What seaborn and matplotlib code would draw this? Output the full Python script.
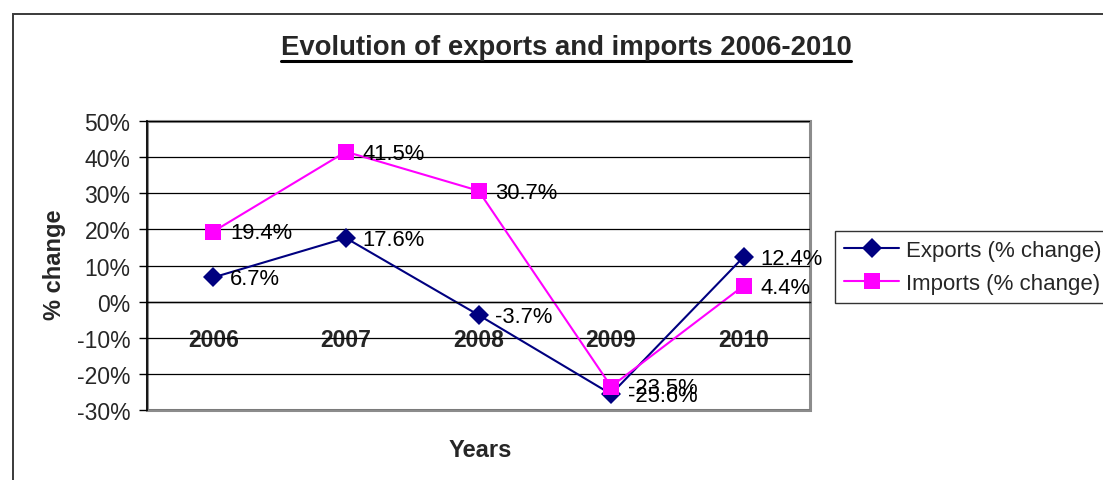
import matplotlib
matplotlib.use("Agg")
import matplotlib.pyplot as plt
from matplotlib.patches import Rectangle
from matplotlib.lines import Line2D
from matplotlib.ticker import FixedLocator, FuncFormatter
import seaborn as sns
import pandas as pd

years = ["2006", "2007", "2008", "2009", "2010"]
exports = [6.7, 17.6, -3.7, -25.6, 12.4]
imports = [19.4, 41.5, 30.7, -23.5, 4.4]
series_names = ["Exports (% change)", "Imports (% change)"]
title_text = "Evolution of exports and imports 2006-2010"

sns.set_theme(style="white")
plt.rcParams["font.family"] = ["Liberation Sans", "DejaVu Sans"]

W, H = 1103, 481
fig = plt.figure(figsize=(W / 100, H / 100), dpi=100)
fig.patch.set_facecolor("white")

# chart frame (left and top edges visible)
fig.patches.append(Rectangle((13 / W, -0.1), 1.2, 1 - 15 / H + 0.1,
                             transform=fig.transFigure, fill=False,
                             edgecolor="#3a3a3a", linewidth=1.4))

ax = fig.add_axes([147 / W, 1 - 411 / H, (810 - 147) / W, (411 - 122) / H])

df = pd.DataFrame({
    "pos": list(range(len(years))) * 2,
    "value": exports + imports,
    "series": [series_names[0]] * len(years) + [series_names[1]] * len(years),
})
palette = {series_names[0]: "#000080", series_names[1]: "#FF00FF"}
markers = {series_names[0]: "D", series_names[1]: "s"}
msize = {series_names[0]: 10.5, series_names[1]: 12}

sns.lineplot(data=df, x="pos", y="value", hue="series", style="series",
             palette=palette, markers=markers, dashes=False, linewidth=1.5,
             markeredgewidth=0, ax=ax, legend=False)
for line, name in zip(ax.lines, series_names):
    line.set_markersize(msize[name])

# value labels
for vals, name in ((exports, series_names[0]), (imports, series_names[1])):
    for i, v in enumerate(vals):
        ax.annotate(f"{v:.1f}%", (i, v), xytext=(12, -1), textcoords="offset points",
                    ha="left", va="center", fontsize=15.8, color="black")

ax.set_xlim(-0.5, len(years) - 0.5)
ax.set_ylim(-30, 50)
ax.yaxis.set_major_locator(FixedLocator(range(-30, 51, 10)))
ax.yaxis.set_major_formatter(FuncFormatter(lambda v, p: f"{int(v)}%"))
ax.grid(axis="y", color="black", linewidth=0.9)
ax.grid(axis="x", visible=False)
ax.set_axisbelow(True)

# category axis crossing at zero
ax.spines["bottom"].set_position(("data", 0))
ax.spines["bottom"].set_color("black")
ax.spines["bottom"].set_linewidth(1.0)
ax.spines["left"].set_color("black")
ax.spines["left"].set_linewidth(1.2)
ax.spines["top"].set_visible(False)
ax.spines["right"].set_visible(False)
ax.add_patch(Rectangle((0, 0), 1, 1, transform=ax.transAxes, fill=False,
                       edgecolor="#8c8c8c", linewidth=2.2, clip_on=False, zorder=0.5))

ax.set_xticks(range(len(years)))
ax.set_xticklabels(years, fontsize=16.5, fontweight="bold")
ax.set_xticks([i + 0.5 for i in range(len(years))], minor=True)
ax.tick_params(axis="x", which="major", length=0, pad=19)
ax.tick_params(axis="x", which="minor", direction="out", length=5, width=1, color="black")
ax.tick_params(axis="y", direction="out", length=6, width=1, color="black",
               labelsize=16.5, pad=6, left=True)

ax.set_xlabel("")
ax.set_ylabel("")
fig.text(55 / W, 1 - 265 / H, "% change", rotation=90, ha="center", va="center",
         fontsize=17, fontweight="bold")
fig.text(480 / W, 1 - 451 / H, "Years", ha="center", va="center",
         fontsize=17, fontweight="bold")

title = fig.text(566 / W, 1 - 48 / H, title_text, ha="center", va="center",
                 fontsize=19.8, fontweight="bold")

handles = [Line2D([], [], color=palette[n], marker=markers[n], linewidth=1.5,
                  markersize=msize[n], markeredgewidth=0)
           for n in series_names]
leg = fig.legend(handles, series_names, loc="upper left",
                 bbox_to_anchor=(835 / W, 1 - 232 / H), fontsize=16,
                 frameon=True, fancybox=False, handlelength=2.5, handletextpad=0.3,
                 borderpad=0.4, labelspacing=0.55, borderaxespad=0)
leg.get_frame().set_edgecolor("black")
leg.get_frame().set_linewidth(1.0)

# underline the title
fig.canvas.draw()
bb = title.get_window_extent().transformed(fig.transFigure.inverted())
fig.add_artist(Line2D([bb.x0, bb.x1], [bb.y0 - 0.003, bb.y0 - 0.003],
                      transform=fig.transFigure, color="black", linewidth=2.2))

fig.savefig("out.png", dpi=100)
